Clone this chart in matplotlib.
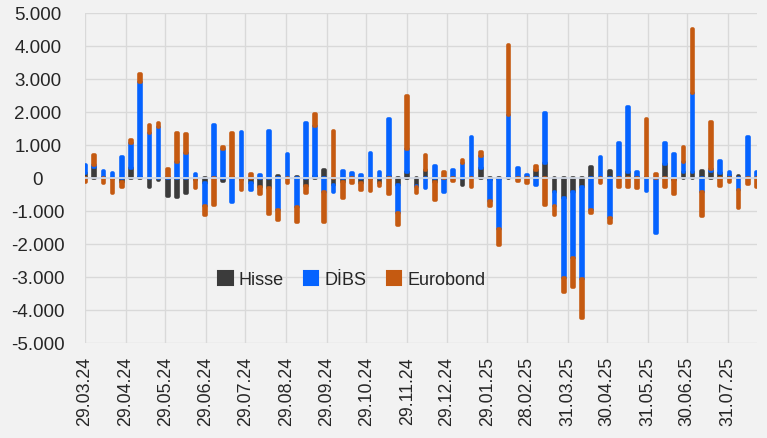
import matplotlib
matplotlib.use("Agg")
import matplotlib.pyplot as plt
import matplotlib.dates as mdates
from matplotlib.patches import Patch
import numpy as np
import pandas as pd

# ---- data (weekly, million TL) ----
start = "2024-03-29"
n_weeks = 74
hisse = [150, 350, 50, -30, -100, 300, 50, -250, -50, -550, -570, -450, -60, -150, 50, -80,
         30, -60, -150, -250, -300, 80, 0, 50, -230, 60, 250, -200, -100, 0, -150, -20,
         -150, 80, -200, 200, -230, 250, -100, -30, 0, -200, 0, 300, -60, -30, 50, 0,
         0, 250, 450, -400, -600, -400, -250, 330, 0, 230, 0, 200, 30, 50, 0, 430,
         -50, 200, 200, 230, 230, 150, 100, 80, 0, 0]
dibs = [250, 50, 180, 170, 650, 780, 2880, 1360, 1560, 30, 480, 760, 120, -700, 1570, 880,
        -720, 1410, -200, 100, 1440, -960, 740, -880, 1690, 1540, -400, -230, 230, 170, 100, 760,
        200, 1720, -860, 700, -30, -300, 370, -400, 250, 450, 1260, 380, -640, -1500, 1870, 300,
        100, -200, 1520, -450, -2420, -2020, -2810, -960, 640, -1210, 1080, 1950, 170, -380, -1660, 650,
        740, 300, 2390, -430, 50, 370, 100, -350, 1260, 200]
euro = [-100, 300, -130, -420, -150, 80, 230, 250, 130, 240, 880, 580, -220, -260, -800, 80,
        1330, -290, 130, -220, -780, -300, -150, -430, -220, 340, -920, 1420, -500, -150, -200, -360,
        -80, -480, -370, 1590, -200, 450, -560, 200, -80, 100, -250, 120, -150, -480, 2130, -80,
        -150, 130, -800, -250, -430, -880, -1160, -100, -150, -150, -250, -250, -300, 1750, 130, -250,
        -430, 460, 1930, -700, 1420, -230, -100, -560, -170, -250]
series_names = ["Hisse", "DİBS", "Eurobond"]
colors = ["#3B3B3B", "#0563FF", "#C55A11"]

tick_dates = ["2024-03-29", "2024-04-29", "2024-05-29", "2024-06-29", "2024-07-29", "2024-08-29",
              "2024-09-29", "2024-10-29", "2024-11-29", "2024-12-29", "2025-01-29", "2025-02-28",
              "2025-03-31", "2025-04-30", "2025-05-31", "2025-06-30", "2025-07-31"]
tick_labels = ["29.03.24", "29.04.24", "29.05.24", "29.06.24", "29.07.24", "29.08.24",
               "29.09.24", "29.10.24", "29.11.24", "29.12.24", "29.01.25", "28.02.25",
               "31.03.25", "30.04.25", "31.05.25", "30.06.25", "31.07.25"]
y_ticks = [5000, 4000, 3000, 2000, 1000, 0, -1000, -2000, -3000, -4000, -5000]
y_labels = ["5.000", "4.000", "3.000", "2.000", "1.000", "0", "-1.000", "-2.000",
            "-3.000", "-4.000", "-5.000"]

dates = pd.date_range(start, periods=n_weeks, freq="7D")
x = mdates.date2num(dates)

plt.rcParams["font.family"] = ["Liberation Sans", "DejaVu Sans"]
bg = "#F2F2F2"
fig = plt.figure(figsize=(7.67, 4.38), dpi=100, facecolor=bg)
ax = fig.add_axes([85 / 767, 1 - 343.3 / 438, 672 / 767, 330 / 438], facecolor=bg)

pos_bottom = np.zeros(n_weeks)
neg_bottom = np.zeros(n_weeks)
for vals, c in zip([hisse, dibs, euro], colors):
    v = np.array(vals, dtype=float)
    b = np.where(v >= 0, pos_bottom, neg_bottom)
    ax.bar(x, v, bottom=b, width=1.3, color=c, edgecolor=c, linewidth=2.6,
           joinstyle="round", zorder=3)
    pos_bottom += np.where(v > 0, v, 0)
    neg_bottom += np.where(v < 0, v, 0)

ax.axhline(0, color="#D3DAE6", lw=1.3, zorder=4)

ax.set_ylim(-5000, 5000)
ax.set_xlim(x[0], x[0] + 511)
ax.set_yticks(y_ticks)
ax.set_yticklabels(y_labels)
tx = mdates.date2num(pd.to_datetime(tick_dates))
ax.set_xticks(tx)
ax.set_xticklabels(tick_labels, rotation=90)

ax.grid(True, color="#D9D9D9", lw=1.0, zorder=0)
for s in ax.spines.values():
    s.set_visible(False)
ax.tick_params(axis="y", length=0, pad=34, labelsize=13.5, labelcolor="#262626")
ax.tick_params(axis="x", length=0, pad=10, labelsize=12.8, labelcolor="#262626")
for lab in ax.get_yticklabels():
    lab.set_ha("center")

handles = [Patch(facecolor=c, edgecolor=c, linewidth=1.5, joinstyle="round") for c in colors]
leg = ax.legend(handles, series_names, loc="center", bbox_to_anchor=(0.397, 0.192),
                ncol=3, frameon=False, fontsize=13, handlelength=0.8, handleheight=0.8,
                handletextpad=0.35, columnspacing=1.1, labelcolor="#262626")

fig.savefig("out.png", dpi=100, facecolor=bg)
